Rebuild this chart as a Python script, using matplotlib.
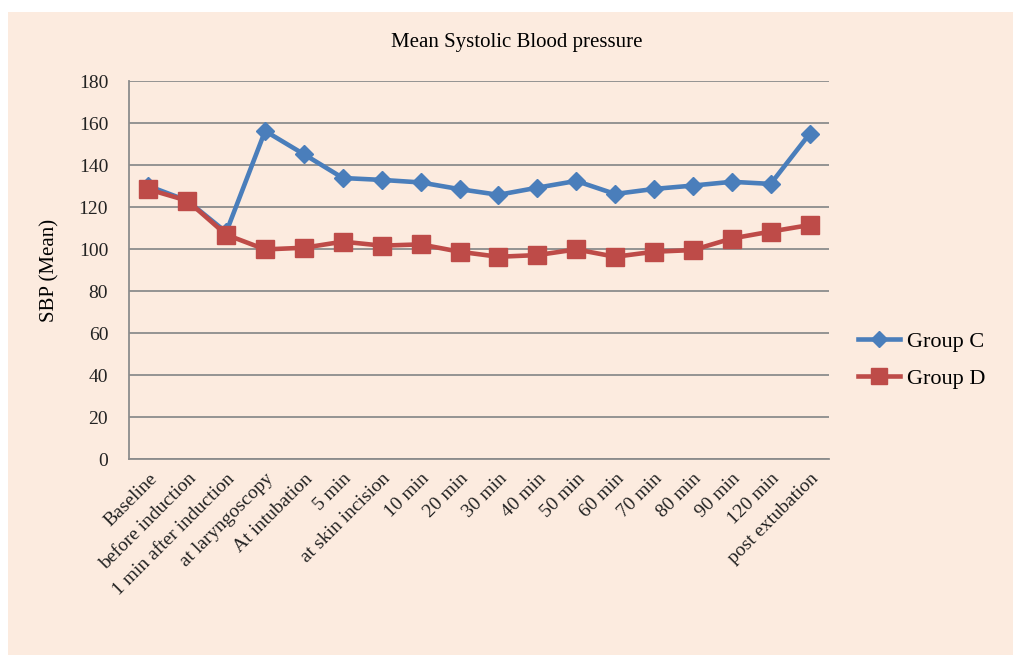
import numpy as np
import matplotlib
matplotlib.use('Agg')
import matplotlib.pyplot as plt
from matplotlib.patches import Rectangle

categories = ['Baseline', 'before induction', '1 min after induction', 'at laryngoscopy',
              'At intubation', '5 min', 'at skin incision', '10 min', '20 min', '30 min',
              '40 min', '50 min', '60 min', '70 min', '80 min', '90 min', '120 min',
              'post extubation']
group_c = [130, 123, 108, 156.2, 145.1, 133.8, 132.9, 131.7, 128.5, 125.8,
           129.2, 132.4, 126.2, 128.6, 130.2, 132.0, 131.0, 154.8]
group_d = [128.4, 123.0, 106.8, 99.8, 100.6, 103.5, 101.6, 102.2, 98.7, 96.3,
           97.1, 99.8, 96.3, 98.7, 99.5, 105.0, 108.3, 111.4]
yticks = [0, 20, 40, 60, 80, 100, 120, 140, 160, 180]

bg = '#FCEBDF'
serif = ['Liberation Serif', 'DejaVu Serif']
plt.rcParams['font.family'] = serif

fig = plt.figure(figsize=(10.13, 6.55), dpi=100, facecolor='white')
fig.patches.append(Rectangle((8/1013, 0), 1 - 8/1013, 1 - 12/655, transform=fig.transFigure,
                             facecolor=bg, edgecolor='none', zorder=-10))

ax = fig.add_axes([129/1013, 1 - 459/655, 700/1013, 378/655])
ax.set_facecolor(bg)
ax.patch.set_alpha(0)

x = np.arange(len(categories))
ax.plot(x, group_c, color='#4A7EBB', linewidth=3.3, marker='D', markersize=9.5,
        label='Group C', zorder=3)
ax.plot(x, group_d, color='#BE4B48', linewidth=3.3, marker='s', markersize=13,
        label='Group D', zorder=4)

ax.set_xlim(-0.5, len(categories) - 0.5)
ax.set_ylim(0, 180)
ax.set_yticks(yticks)
ax.yaxis.grid(True, color='#8C8C8C', linewidth=1.3)
ax.set_axisbelow(True)
ax.tick_params(axis='y', length=0, labelsize=14, colors='#222222', pad=15)
ax.set_xticks(x)
ax.set_xticklabels(categories, rotation=45, ha='right', rotation_mode='anchor')
ax.tick_params(axis='x', length=0, labelsize=14, colors='#222222', pad=8)

for s in ['top', 'right']:
    ax.spines[s].set_visible(False)
for s in ['left', 'bottom']:
    ax.spines[s].set_color('#8C8C8C')
    ax.spines[s].set_linewidth(1.3)

ax.set_ylabel('SBP (Mean)', fontsize=15, labelpad=14)
fig.text(517/1013, 1 - 43/655, 'Mean Systolic Blood pressure', ha='center', va='center',
         fontsize=15)

fig.legend(loc='center left', bbox_to_anchor=(838/1013, 1 - 360/655), frameon=False,
           fontsize=16, handlelength=1.9, labelspacing=0.75, handletextpad=0.3,
           markerscale=0.85)

fig.savefig('out.png', dpi=100, facecolor=fig.get_facecolor())
plt.close()
